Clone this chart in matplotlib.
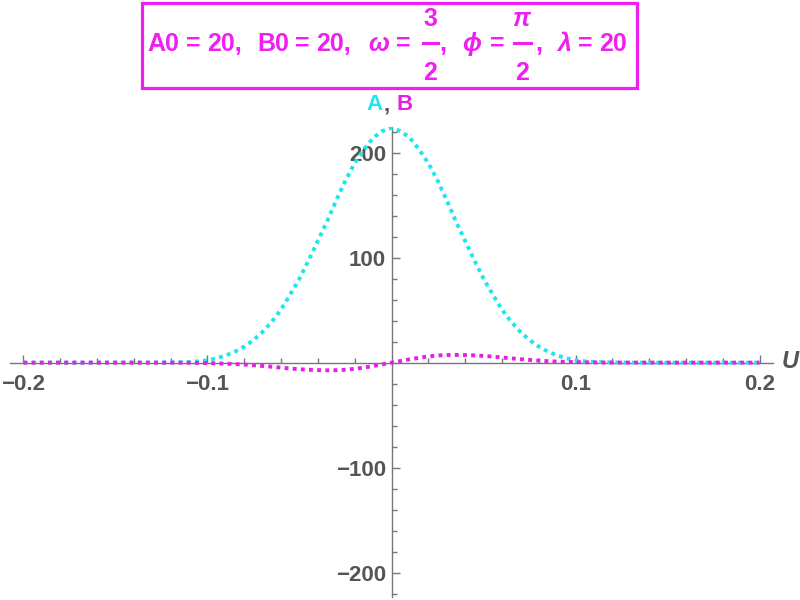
import matplotlib
matplotlib.use('Agg')
import matplotlib.pyplot as plt
from matplotlib.patches import Rectangle
from matplotlib.lines import Line2D
from matplotlib.ticker import FixedLocator, FuncFormatter

# sample positions along U
u_values = [-0.2, -0.16, -0.14, -0.13, -0.125, -0.12, -0.115, -0.11, -0.105, -0.1,
            -0.095, -0.09, -0.085, -0.08, -0.075, -0.07, -0.065, -0.06, -0.055, -0.05,
            -0.045, -0.04, -0.035, -0.03, -0.025, -0.02, -0.015, -0.01, -0.005, 0.0,
            0.005, 0.01, 0.015, 0.02, 0.025, 0.03, 0.035, 0.04, 0.045, 0.05,
            0.055, 0.06, 0.065, 0.07, 0.075, 0.08, 0.085, 0.09, 0.095, 0.1,
            0.105, 0.11, 0.115, 0.12, 0.125, 0.13, 0.14, 0.16, 0.2]

# A (cyan)
a_values = [0.0, 0.0, 0.0, 0.05, 0.1, 0.2, 0.4, 0.7, 1.2, 2.2,
            4.2, 6.8, 10.5, 15.3, 21.5, 29.4, 39.0, 50.5, 65.0, 80.0,
            97.5, 116.0, 134.5, 154.7, 173.5, 190.0, 203.0, 214.0, 220.5, 223.5,
            220.5, 214.0, 203.0, 190.0, 173.5, 154.7, 134.5, 116.0, 97.5, 80.0,
            65.0, 50.5, 39.0, 29.4, 21.5, 15.3, 10.5, 6.8, 4.2, 2.2,
            1.2, 0.7, 0.4, 0.2, 0.1, 0.05, 0.0, 0.0, 0.0]

# B (magenta)
b_values = [0.0, 0.0, 0.0, -0.02, -0.03, -0.06, -0.1, -0.2, -0.3, -0.45,
            -0.7, -1.0, -1.4, -1.8, -2.5, -3.2, -3.9, -4.8, -5.6, -6.3,
            -6.8, -7.1, -7.3, -7.2, -6.8, -5.9, -4.7, -3.3, -1.6, 0.0,
            1.6, 3.2, 4.6, 5.9, 6.8, 7.2, 7.3, 7.2, 6.9, 6.4,
            5.7, 4.9, 4.1, 3.3, 2.6, 1.9, 1.4, 1.0, 0.7, 0.45,
            0.3, 0.2, 0.1, 0.06, 0.03, 0.02, 0.0, 0.0, 0.0]

x_major = [-0.2, -0.1, 0.1, 0.2]
x_minor = [-0.18, -0.16, -0.14, -0.12, -0.08, -0.06, -0.04, -0.02,
           0.02, 0.04, 0.06, 0.08, 0.12, 0.14, 0.16, 0.18]
y_major = [-200, -100, 100, 200]
y_minor = [-220, -180, -160, -140, -120, -80, -60, -40, -20,
           20, 40, 60, 80, 120, 140, 160, 180, 220]

# pieces of the parameter line: (text, left pixel, row, italic)
title_pieces = [('A0', 147, 'mid', False), ('=', 186, 'mid', False), ('20,', 207, 'mid', False),
                ('B0', 257, 'mid', False), ('=', 295, 'mid', False), ('20,', 316, 'mid', False),
                ('\u03c9', 368, 'mid', True), ('=', 396, 'mid', False),
                ('3', 423, 'top', False), ('2', 423, 'bot', False), (',', 439, 'mid', False),
                ('\u03d5', 462, 'mid', True), ('=', 490, 'mid', False),
                ('\u03c0', 512, 'top', True), ('2', 515, 'bot', False), (',', 535, 'mid', False),
                ('\u03bb', 557, 'mid', True), ('=', 578, 'mid', False), ('20', 599, 'mid', False)]
fraction_bars = [(423, 438), (514, 531)]

CYAN = '#1ee6ee'
MAGENTA = '#e61ee6'
TITLE_MAGENTA = '#f01ef0'
GRAY = '#555555'
AXIS_GRAY = '#777777'
FONT = ['Liberation Sans', 'DejaVu Sans']

W, H = 800, 600
fig = plt.figure(figsize=(8, 6), dpi=100)


def fx(px):
    return px / W


def fy(py):
    return 1 - py / H


ax = fig.add_axes([fx(10), fy(597), fx(763), (597 - 127) / H])
ax.set_xlim(-0.2073, 0.2073)
ax.set_ylim(-223.2, 224.4)
ax.patch.set_alpha(0)

dots = (0, (1, 1.1))
ax.plot(u_values, a_values, color=CYAN, lw=2.8, linestyle=dots, dash_capstyle='butt', zorder=3)
ax.plot(u_values, b_values, color=MAGENTA, lw=2.8, linestyle=dots, dash_capstyle='butt', zorder=4)

# axes crossing at the origin
for side in ['top', 'right']:
    ax.spines[side].set_visible(False)
for side in ['left', 'bottom']:
    ax.spines[side].set_position(('data', 0))
    ax.spines[side].set_color(AXIS_GRAY)
    ax.spines[side].set_linewidth(1.0)

ax.xaxis.set_major_locator(FixedLocator(x_major))
ax.xaxis.set_minor_locator(FixedLocator(x_minor))
ax.yaxis.set_major_locator(FixedLocator(y_major))
ax.yaxis.set_minor_locator(FixedLocator(y_minor))
ax.xaxis.set_major_formatter(FuncFormatter(lambda v, p: f'{v:.1f}'.replace('-', '\u2212')))
ax.yaxis.set_major_formatter(FuncFormatter(lambda v, p: f'{v:.0f}'.replace('-', '\u2212')))
ax.tick_params(which='both', direction='in', color=AXIS_GRAY, width=1.0)
ax.tick_params(which='major', length=6)
ax.tick_params(which='minor', length=3.5)
ax.tick_params(axis='x', which='major', pad=8)
ax.tick_params(axis='y', which='major', pad=4)
for lab in ax.get_xticklabels() + ax.get_yticklabels():
    lab.set_fontfamily(FONT)
    lab.set_fontweight('bold')
    lab.set_fontsize(16)
    lab.set_color(GRAY)

# axis labels
fig.text(fx(790), fy(361), 'U', color=GRAY, fontsize=17, fontweight='bold', fontstyle='italic',
         family=FONT, ha='center', va='center')
fig.text(fx(383), fy(105), 'A', color=CYAN, fontsize=16, fontweight='bold', family=FONT,
         ha='right', va='center')
fig.text(fx(384), fy(105), ',', color=GRAY, fontsize=16, fontweight='bold', family=FONT,
         ha='left', va='center')
fig.text(fx(397), fy(105), 'B', color=MAGENTA, fontsize=16, fontweight='bold', family=FONT,
         ha='left', va='center')

# parameter box at the top
fig.patches.append(Rectangle((fx(142), fy(88)), fx(637 - 142), (88 - 3) / H, transform=fig.transFigure,
                             fill=False, edgecolor=TITLE_MAGENTA, linewidth=2.3))
rows = {'top': fy(19), 'mid': fy(44), 'bot': fy(73)}
for text, left, row, italic in title_pieces:
    fig.text(fx(left), rows[row], text, ha='left', va='center', color=TITLE_MAGENTA, fontsize=18,
             fontweight='bold', fontstyle='italic' if italic else 'normal', family=FONT)
for x0, x1 in fraction_bars:
    fig.lines.append(Line2D([fx(x0), fx(x1)], [fy(43), fy(43)], transform=fig.transFigure,
                            color=TITLE_MAGENTA, linewidth=2.2))

fig.savefig('out.png', dpi=100)
